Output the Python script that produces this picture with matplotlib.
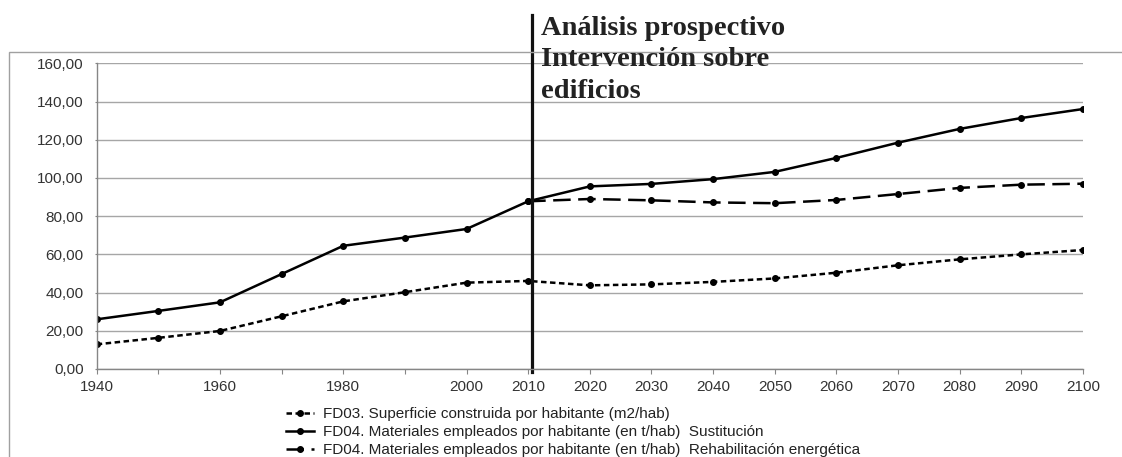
import numpy as np
import matplotlib.pyplot as plt
from matplotlib.ticker import FuncFormatter
import matplotlib.transforms as mtransforms

years = [1940, 1950, 1960, 1970, 1980, 1990, 2000, 2010, 2020,
         2030, 2040, 2050, 2060, 2070, 2080, 2090, 2100]
year_labels = ['1940', '', '1960', '', '1980', '', '2000', '2010', '2020',
               '2030', '2040', '2050', '2060', '2070', '2080', '2090', '2100']

superficie = [12.9, 16.3, 19.9, 27.6, 35.4, 40.2, 45.2, 46.1, 43.8,
              44.3, 45.6, 47.4, 50.4, 54.3, 57.4, 60.0, 62.3]
sustitucion = [26.0, 30.4, 34.9, 49.7, 64.5, 68.8, 73.3, 87.8, 95.6,
               96.9, 99.4, 103.2, 110.5, 118.5, 125.7, 131.4, 136.1]
rehabilitacion = [np.nan, np.nan, np.nan, np.nan, np.nan, np.nan, np.nan, 87.8, 89.0,
                  88.3, 87.2, 86.8, 88.5, 91.6, 94.8, 96.5, 97.0]

labels = ['FD03. Superficie construida por habitante (m2/hab)',
          'FD04. Materiales empleados por habitante (en t/hab)  Sustitución',
          'FD04. Materiales empleados por habitante (en t/hab)  Rehabilitación energética']

plt.rcParams['font.family'] = ['Liberation Sans', 'DejaVu Sans']

fig = plt.figure(figsize=(11.22, 4.57), dpi=100)
ax = fig.add_axes([0.0862, 0.1926, 0.879, 0.6687])

x = np.arange(len(years))
ax.plot(x, superficie, color='black', lw=1.8, ls=(0, (2.2, 1.4)),
        marker='o', ms=4, label=labels[0])
ax.plot(x, sustitucion, color='black', lw=1.8, ls='-',
        marker='o', ms=4, label=labels[1])
ax.plot(x, rehabilitacion, color='black', lw=1.8, ls=(0, (7, 3)),
        marker='o', ms=4, label=labels[2])

ax.set_xlim(0, len(years) - 1)
ax.set_ylim(0, 160)
ax.set_yticks(np.arange(0, 161, 20))
ax.yaxis.set_major_formatter(FuncFormatter(lambda v, p: f"{v:.2f}".replace('.', ',')))
ax.set_xticks(x)
ax.set_xticklabels(year_labels)

ax.grid(axis='y', color='#a6a6a6', lw=1)
ax.set_axisbelow(True)
for s in ['top', 'right']:
    ax.spines[s].set_visible(False)
for s in ['left', 'bottom']:
    ax.spines[s].set_color('#868686')
    ax.spines[s].set_linewidth(1)
ax.tick_params(axis='y', length=1.5, color='#868686', labelsize=11, labelcolor='#333333', pad=8)
ax.tick_params(axis='x', length=3.6, color='#868686', labelsize=11, labelcolor='#333333', pad=4)

# linea vertical en 2010
trans = mtransforms.blended_transform_factory(ax.transData, ax.transAxes)
ax.plot([7.06, 7.06], [-0.01, 1.158], transform=trans, clip_on=False,
        color='#111111', lw=2.3)

fig.text(541 / 1122, 1 - 16 / 457, 'Análisis prospectivo\nIntervención sobre\nedificios',
         family=['Liberation Serif', 'DejaVu Serif'], fontweight='bold', fontsize=20.5,
         color='#222222', va='top', ha='left', linespacing=1.34)

# borde exterior
fig.add_artist(plt.Rectangle((9 / 1122, -0.1), 1.2, 1 - 52 / 457 + 0.1,
                             transform=fig.transFigure, fill=False,
                             edgecolor='#a0a0a0', lw=1))

fig.legend(loc='upper left', bbox_to_anchor=(286 / 1122, 1 - 407 / 457),
           frameon=False, fontsize=11, handlelength=1.8, handletextpad=0.6,
           labelspacing=0.26, borderpad=0, borderaxespad=0, labelcolor='#222222')

fig.savefig('out.png', dpi=100)
